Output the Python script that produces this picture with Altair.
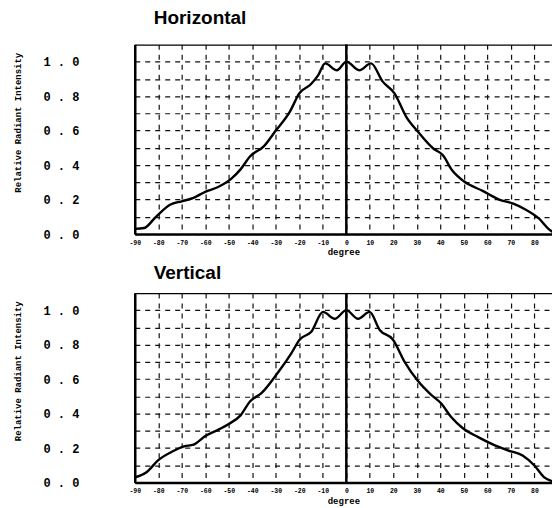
import altair as alt
import pandas as pd

# ---- data ----
h_deg = [-90, -86, -81, -75, -70, -65, -60, -55, -49, -45, -41, -35, -30, -24, -20, -15, -12, -9, -4, 0,
         5.5, 10.5, 15.5, 20.5, 25.5, 30.5, 37, 41, 45, 50, 58, 65, 71, 76, 82, 86, 88]
h_val = [0.03, 0.035, 0.10, 0.17, 0.19, 0.21, 0.245, 0.27, 0.32, 0.375, 0.45, 0.51, 0.60, 0.71, 0.816, 0.87,
         0.92, 0.99, 0.95, 1.0, 0.95, 0.99, 0.884, 0.816, 0.68, 0.593, 0.496, 0.458, 0.37, 0.306, 0.25, 0.20,
         0.176, 0.144, 0.089, 0.03, 0.01]

v_deg = [-90, -85, -80, -74, -69, -65, -60, -54, -50, -45, -41, -36, -29, -23.4, -19.8, -14.9, -9.9, -4.9, 0,
         5, 9.9, 14.2, 19.8, 24.8, 30.4, 36, 40.3, 44.6, 49.6, 55.9, 61.6, 68.7, 75, 80, 84.2, 88]
v_val = [0.03, 0.06, 0.13, 0.18, 0.21, 0.22, 0.27, 0.31, 0.34, 0.39, 0.47, 0.52, 0.64, 0.75, 0.83, 0.875, 0.99,
         0.95, 1.0, 0.95, 0.99, 0.885, 0.83, 0.70, 0.59, 0.51, 0.46, 0.38, 0.315, 0.265, 0.226, 0.187, 0.157,
         0.099, 0.03, 0.006]

x_ticks = [-90, -80, -70, -60, -50, -40, -30, -20, -10, 0, 10, 20, 30, 40, 50, 60, 70, 80]
x_labels = ["-90", "-80", "-70", "-60", "-50", "-40", "-30", "-20", "-10", "0",
            "10", "20", "30", "40", "50", "60", "70", "80"]
y_grid = [0.0, 0.1, 0.2, 0.3, 0.4, 0.5, 0.6, 0.7, 0.8, 0.9, 1.0]
y_ticks = [0.0, 0.2, 0.4, 0.6, 0.8, 1.0]
y_labels = ["0 . 0", "0 . 2", "0 . 4", "0 . 6", "0 . 8", "1 . 0"]

X_MIN, X_MAX = -90, 87.5
Y_MIN, Y_MAX = 0, 1.1


def label_expr(values, labels):
    expr = "''"
    for v, l in reversed(list(zip(values, labels))):
        expr = f"abs(datum.value - ({v})) < 1e-6 ? '{l}' : ({expr})"
    return expr


XS = alt.Scale(domain=[X_MIN, X_MAX], nice=False, zero=False)
YS = alt.Scale(domain=[Y_MIN, Y_MAX], nice=False, zero=False)

X_AXIS = alt.Axis(
    values=x_ticks, labelExpr=label_expr(x_ticks, x_labels), title="degree",
    grid=True, gridDash=[5, 5], gridColor="#111", gridWidth=1.2,
    ticks=False, tickSize=0, domain=True, domainColor="black", domainWidth=2.5,
    labelFont="Liberation Mono", labelFontSize=6.5, labelFontWeight="bold", labelColor="black",
    labelPadding=5, labelFlush=False, labelOverlap=False,
    titleFont="Liberation Mono", titleFontSize=9, titleFontWeight="bold", titleColor="black",
    titlePadding=2)
Y_AXIS = alt.Axis(
    values=y_grid, labelExpr=label_expr(y_ticks, y_labels), title="Relative Radiant Intensity",
    grid=True, gridDash=[5, 5], gridColor="#111", gridWidth=1.2,
    ticks=False, tickSize=0, domain=True, domainColor="black", domainWidth=2.5,
    labelFont="Liberation Mono", labelFontSize=12, labelFontWeight="bold", labelColor="black",
    labelPadding=56, labelOverlap=False,
    titleFont="Liberation Mono", titleFontSize=9, titleFontWeight="bold", titleColor="black",
    titleAngle=-90, titleX=-121, titleY=78, titleBaseline="top", titleAlign="center")


def panel(deg, val, title, title_offset):
    df = pd.DataFrame({"deg": deg, "val": val})

    line = alt.Chart(df).mark_line(color="black", strokeWidth=2.4, interpolate="monotone", clip=True).encode(
        x=alt.X("deg:Q", scale=XS, axis=X_AXIS),
        y=alt.Y("val:Q", scale=YS, axis=Y_AXIS))

    hrule_df = pd.DataFrame({"y": [Y_MAX], "x1": [X_MIN], "x2": [X_MAX]})
    top = alt.Chart(hrule_df).mark_rule(color="black", strokeWidth=2.5, clip=True).encode(
        y=alt.Y("y:Q", scale=YS, axis=Y_AXIS),
        x=alt.X("x1:Q", scale=XS, axis=X_AXIS), x2="x2:Q")
    vrule_df = pd.DataFrame({"x": [0], "y1": [Y_MIN], "y2": [Y_MAX]})
    zero = alt.Chart(vrule_df).mark_rule(color="black", strokeWidth=2.5).encode(
        x=alt.X("x:Q", scale=XS, axis=X_AXIS),
        y=alt.Y("y1:Q", scale=YS, axis=Y_AXIS), y2="y2:Q")

    return alt.layer(line, top, zero).properties(
        width=418, height=190,
        title=alt.TitleParams(title, anchor="start", frame="group", dx=19, offset=title_offset,
                              font="Liberation Sans", fontSize=19, fontWeight="bold", color="black"))


chart = alt.vconcat(
    panel(h_deg, h_val, "Horizontal", 15),
    panel(v_deg, v_val, "Vertical", 9),
    spacing=6,
).properties(
    padding={"left": 13, "top": 8, "right": 0, "bottom": 0},
    background="white",
).configure_view(stroke=None)

chart.save("out.html", embed_options={"renderer": "svg", "actions": False})
